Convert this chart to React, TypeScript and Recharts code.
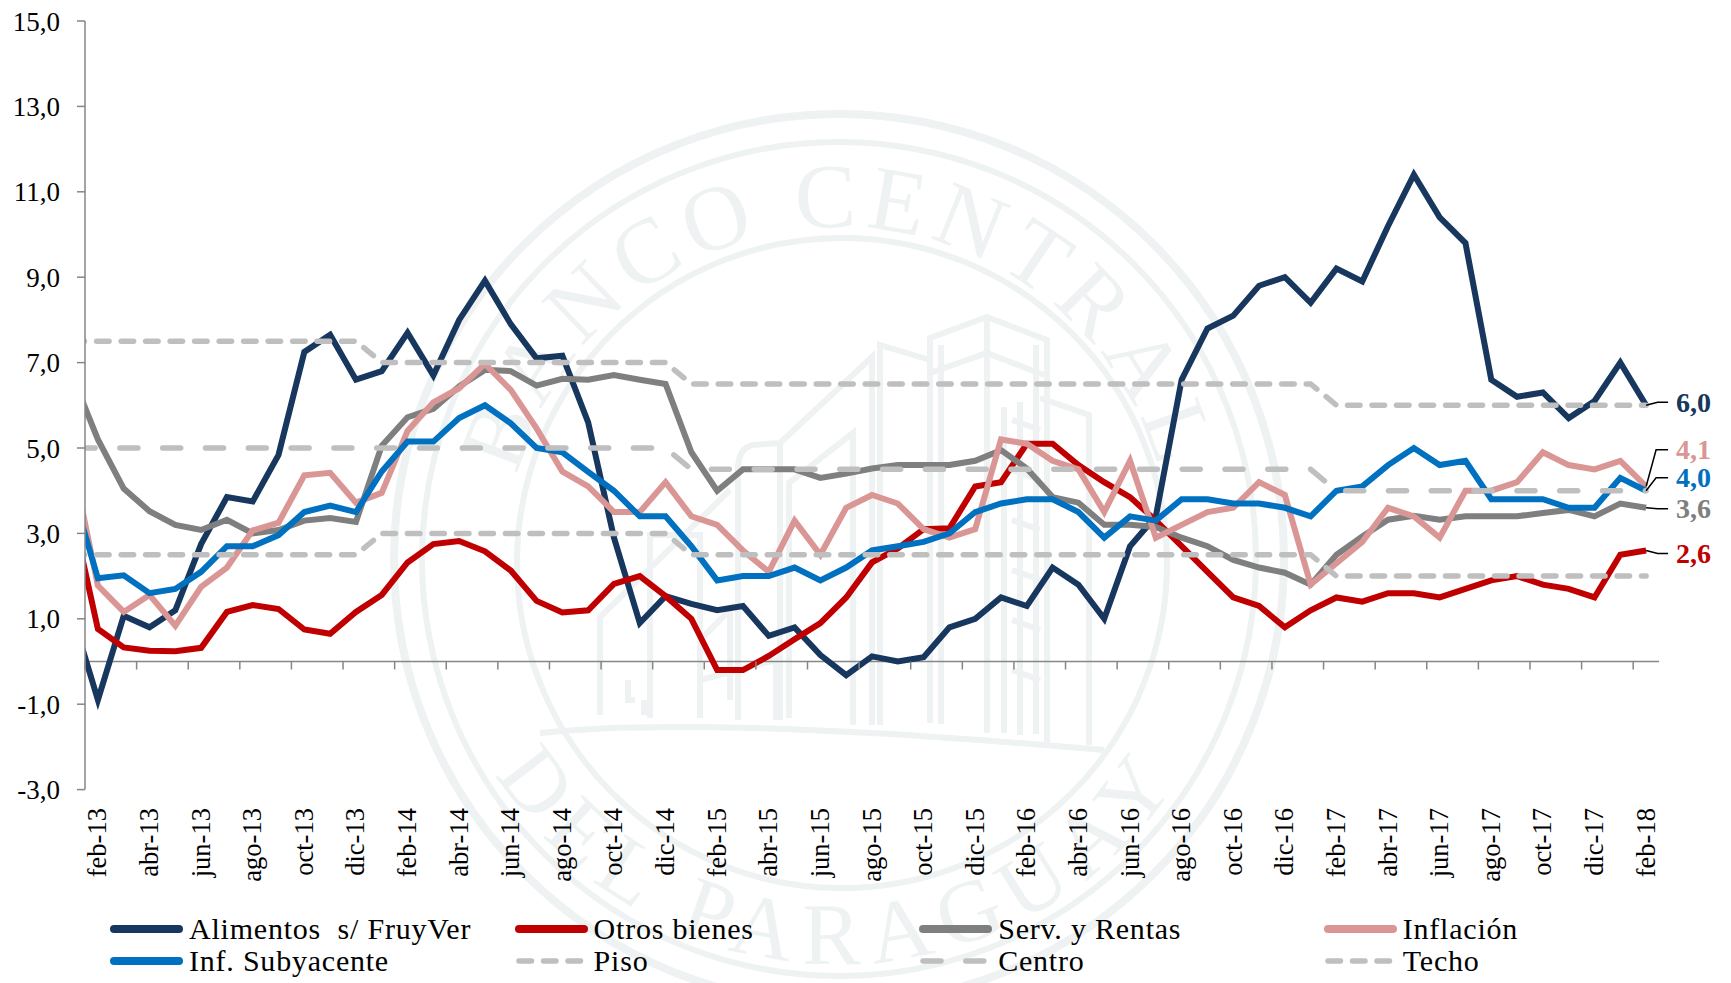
import React from "react";
import { LineChart, Line, XAxis, YAxis, ReferenceLine, ReferenceDot, Legend } from "recharts";

const months = ["ene-13","feb-13","mar-13","abr-13","may-13","jun-13","jul-13","ago-13","sep-13","oct-13","nov-13","dic-13",
"ene-14","feb-14","mar-14","abr-14","may-14","jun-14","jul-14","ago-14","sep-14","oct-14","nov-14","dic-14",
"ene-15","feb-15","mar-15","abr-15","may-15","jun-15","jul-15","ago-15","sep-15","oct-15","nov-15","dic-15",
"ene-16","feb-16","mar-16","abr-16","may-16","jun-16","jul-16","ago-16","sep-16","oct-16","nov-16","dic-16",
"ene-17","feb-17","mar-17","abr-17","may-17","jun-17","jul-17","ago-17","sep-17","oct-17","nov-17","dic-17",
"ene-18","feb-18"];

const alimentos = [1.1,-0.9,1.07,0.8,1.2,2.75,3.85,3.75,4.84,7.25,7.65,6.6,6.8,7.7,6.7,8.0,8.92,7.9,7.1,7.16,5.6,2.9,0.9,1.53,1.35,1.2,1.3,0.6,0.8,0.15,-0.32,0.12,0.0,0.1,0.8,1.0,1.5,1.3,2.2,1.8,1.0,2.7,3.4,6.6,7.8,8.1,8.8,9.0,8.4,9.2,8.9,10.2,11.4,10.4,9.8,6.6,6.2,6.3,5.7,6.1,7.0,6.0];
const otros = [3.5,0.76,0.33,0.25,0.24,0.32,1.16,1.32,1.23,0.75,0.65,1.16,1.56,2.32,2.75,2.82,2.58,2.13,1.42,1.15,1.2,1.82,2.0,1.53,1.0,-0.2,-0.2,0.13,0.52,0.9,1.5,2.32,2.65,3.1,3.12,4.1,4.2,5.1,5.1,4.6,4.2,3.85,3.3,2.7,2.1,1.5,1.3,0.8,1.2,1.5,1.4,1.6,1.6,1.5,1.7,1.9,2.0,1.8,1.7,1.5,2.5,2.6];
const servicios = [6.7,5.2,4.05,3.52,3.2,3.08,3.32,3.0,3.08,3.3,3.36,3.27,5.05,5.72,5.92,6.44,6.83,6.8,6.46,6.62,6.6,6.71,6.6,6.5,4.9,4.0,4.5,4.5,4.5,4.3,4.4,4.52,4.6,4.6,4.6,4.7,4.95,4.52,3.85,3.72,3.2,3.2,3.15,2.9,2.7,2.38,2.2,2.08,1.8,2.5,2.93,3.32,3.41,3.32,3.4,3.4,3.4,3.48,3.55,3.4,3.7,3.6];
const inflacion = [4.7,1.78,1.16,1.56,0.84,1.75,2.2,3.07,3.25,4.36,4.42,3.72,3.95,5.4,6.07,6.4,6.97,6.36,5.46,4.45,4.1,3.5,3.5,4.2,3.4,3.2,2.6,2.1,3.3,2.5,3.6,3.9,3.7,3.1,2.9,3.1,5.2,5.1,4.7,4.5,3.5,4.7,2.9,3.2,3.5,3.6,4.2,3.9,1.8,2.3,2.8,3.6,3.4,2.9,4.0,4.0,4.2,4.9,4.6,4.5,4.7,4.1];
const subyacente = [4.0,1.95,2.02,1.6,1.7,2.1,2.7,2.7,2.96,3.5,3.65,3.5,4.45,5.15,5.15,5.7,6.0,5.58,5.0,4.9,4.44,4.0,3.4,3.4,2.7,1.9,2.0,2.0,2.2,1.9,2.2,2.6,2.7,2.8,3.0,3.5,3.7,3.8,3.8,3.5,2.9,3.4,3.3,3.8,3.8,3.7,3.7,3.6,3.4,4.0,4.1,4.6,5.0,4.6,4.7,3.8,3.8,3.8,3.6,3.6,4.3,4.0];
const piso = [2.5,2.5,2.5,2.5,2.5,2.5,2.5,2.5,2.5,2.5,2.5,2.5,3,3,3,3,3,3,3,3,3,3,3,3,2.5,2.5,2.5,2.5,2.5,2.5,2.5,2.5,2.5,2.5,2.5,2.5,2.5,2.5,2.5,2.5,2.5,2.5,2.5,2.5,2.5,2.5,2.5,2.5,2.5,2,2,2,2,2,2,2,2,2,2,2,2,2];
const centro = [5,5,5,5,5,5,5,5,5,5,5,5,5,5,5,5,5,5,5,5,5,5,5,5,4.5,4.5,4.5,4.5,4.5,4.5,4.5,4.5,4.5,4.5,4.5,4.5,4.5,4.5,4.5,4.5,4.5,4.5,4.5,4.5,4.5,4.5,4.5,4.5,4.5,4,4,4,4,4,4,4,4,4,4,4,4,4];
const techo = [7.5,7.5,7.5,7.5,7.5,7.5,7.5,7.5,7.5,7.5,7.5,7.5,7,7,7,7,7,7,7,7,7,7,7,7,6.5,6.5,6.5,6.5,6.5,6.5,6.5,6.5,6.5,6.5,6.5,6.5,6.5,6.5,6.5,6.5,6.5,6.5,6.5,6.5,6.5,6.5,6.5,6.5,6.5,6,6,6,6,6,6,6,6,6,6,6,6,6];

const yTicks = [-3,-1,1,3,5,7,9,11,13,15];
const xTicks = months.map((_, i) => i).filter((i) => i % 2 === 1);

const data = months.map((m, i) => ({
  idx: i, mes: m,
  alimentos: alimentos[i], otros: otros[i], servicios: servicios[i], inflacion: inflacion[i],
  subyacente: subyacente[i], piso: piso[i], centro: centro[i], techo: techo[i],
}));

const NAVY = "#17375E", RED = "#C00000", GREY = "#7F7F7F", PINK = "#D99694", BLUE = "#0070C0", DASH = "#BFBFBF", AXIS = "#868686";
const SHORT = "12.5 12", LONG = "18 24.8";
const FONT = '"Liberation Serif", "Times New Roman", serif';

const series = [
  { key: "alimentos", name: "Alimentos  s/ FruyVer", color: NAVY },
  { key: "otros", name: "Otros bienes", color: RED },
  { key: "servicios", name: "Serv. y Rentas", color: GREY },
  { key: "inflacion", name: "Inflación", color: PINK },
  { key: "subyacente", name: "Inf. Subyacente", color: BLUE },
  { key: "piso", name: "Piso", color: DASH, dash: SHORT },
  { key: "centro", name: "Centro", color: DASH, dash: LONG, offset: -5 },
  { key: "techo", name: "Techo", color: DASH, dash: SHORT },
];

const endLabels = [
  { value: 6.0, color: NAVY, dy: -3, elbow: 11.5 },
  { value: 4.1, color: PINK, dy: -36.6, elbow: 10 },
  { value: 4.0, color: BLUE, dy: -13, elbow: 10 },
  { value: 3.6, color: GREY, dy: 1, elbow: 11.5 },
  { value: 2.6, color: RED, dy: 3, elbow: 11.5 },
];

const fmt = (v: number) => v.toFixed(1).replace(".", ",");

const XTick = (props: any) => {
  const { x, y, payload } = props;
  const zeroY = y - 128.1;
  return (
    <g>
      <line x1={x - 12.9} x2={x - 12.9} y1={zeroY} y2={zeroY + 8} stroke={AXIS} strokeWidth={1.5} />
      <text transform={`translate(${x + 8.5},${y + 18.5}) rotate(-90)`} textAnchor="end" fontFamily={FONT} fontSize={26.5} fill="#000">
        {months[payload.value]}
      </text>
    </g>
  );
};

const LegendBox = () => (
  <div style={{ position: "relative", width: 1731, height: 64 }}>
    {series.map((s, i) => {
      const col = i % 4, row = Math.floor(i / 4);
      const solid = !s.dash;
      return (
        <div key={s.key} style={{ position: "absolute", left: 110 + col * 404.6, top: row * 32, height: 32, display: "flex", alignItems: "center", whiteSpace: "pre", fontFamily: FONT, fontSize: 30, letterSpacing: 0.78, lineHeight: "32px", color: "#000" }}>
          <svg width={73} height={12} style={{ marginRight: 6, display: "block" }}>
            <line x1={4} x2={69} y1={6} y2={6} stroke={s.color} strokeWidth={solid ? 8 : 5.5} strokeLinecap="round" strokeDasharray={s.dash} />
          </svg>
          <span>{s.name}</span>
        </div>
      );
    })}
  </div>
);

const ringColor = "#EEF2F2";
const buildings = [
  "M930 723 L930 338 L987 317 L1047 340 L1047 742",
  "M987 317 L987 733", "M930 373 L987 353 L1044 375",
  "M941 724 L941 345", "M1036 734 L1036 345",
  "M880 725 L880 345 L930 360", "M872 725 L872 357 L780 443 L753 445 Q738 448 738 470 L738 720",
  "M780 443 L780 720", "M853 725 L853 433 L789 483 L789 718",
  "M1040 398 L1089 415 L1089 745", "M1004 407 L1004 733", "M1020 402 L1020 735",
  "M1012 420 L1040 430 M1012 470 L1040 480 M1012 520 L1040 530 M1012 570 L1040 580 M1012 620 L1040 630 M1012 670 L1040 680",
  "M600 715 L600 617 L730 490", "M644 700 L644 715", "M650 718 L650 535 L700 535 L700 718",
  "M700 640 L730 610 L730 700", "M635 700 L628 700 L628 680", "M776 720 L776 660 L700 680",
  "M540 733 Q700 715 1104 750",
];

const Watermark = () => (
  <svg width={1731} height={983} style={{ position: "absolute", left: 0, top: 0 }}>
    <defs>
      <path id="wmTop" d="M 507 559 A 332 332 0 0 1 1171 559" />
      <path id="wmBottom" d="M 434 559 A 405 405 0 0 0 1244 559" />
    </defs>
    <g fill="none" stroke={ringColor}>
      <circle cx={839} cy={559} r={445} strokeWidth={8} />
      <circle cx={839} cy={559} r={417} strokeWidth={6} />
      <circle cx={842} cy={563} r={325} strokeWidth={6} />
      {buildings.map((d, i) => <path key={i} d={d} strokeWidth={6} />)}
    </g>
    <g fill={ringColor} fontFamily={FONT} fontSize={88}>
      <text textAnchor="middle" letterSpacing={8} fontSize={92}><textPath href="#wmTop" startOffset="50%">BANCO CENTRAL</textPath></text>
      <text textAnchor="middle" letterSpacing={13}><textPath href="#wmBottom" startOffset="50%">DEL PARAGUAY</textPath></text>
    </g>
  </svg>
);

export default function App() {
  return (
    <div style={{ position: "absolute", left: 0, top: 0, width: 1731, height: 983, overflow: "hidden", background: "#fff" }}>
      <Watermark />
      <div style={{ position: "absolute", left: 0, top: 0 }}>
        <LineChart width={1731} height={983} data={data} margin={{ top: 21, right: 72, bottom: 0, left: 0 }}>
          <XAxis dataKey="idx" type="number" domain={[0.5, 61.5]} allowDataOverflow ticks={xTicks} interval={0}
            height={129.4} axisLine={false} tickLine={false} tickSize={0} tickMargin={0} tick={<XTick />} />
          <YAxis type="number" domain={[-3, 15]} ticks={yTicks} interval={0} width={85} tickFormatter={fmt}
            axisLine={{ stroke: AXIS, strokeWidth: 1.5 }} tickLine={{ stroke: AXIS, strokeWidth: 1.5 }} tickSize={8} tickMargin={17}
            tick={{ fontFamily: FONT, fontSize: 27, fill: "#000" }} />
          <ReferenceLine y={0} stroke={AXIS} strokeWidth={1.5} />
          <Legend layout="vertical" align="center" verticalAlign="bottom" content={<LegendBox />}
            wrapperStyle={{ left: 0, top: 913, bottom: "auto", width: 1731 }} />
          {series.map((s) => (
            <Line key={s.key} dataKey={s.key} name={s.name} stroke={s.color} strokeWidth={s.dash ? 5.5 : 6}
              strokeDasharray={s.dash} strokeDashoffset={s.offset} strokeLinecap={s.dash ? "round" : "butt"} strokeLinejoin="miter"
              dot={false} activeDot={false} isAnimationActive={false} />
          ))}
          {endLabels.map((l) => (
            <ReferenceDot key={l.color} x={61} y={l.value} r={0} ifOverflow="visible"
              shape={(p: any) => (
                <g>
                  <polyline points={`${p.cx},${p.cy} ${p.cx + l.elbow},${p.cy + l.dy} ${p.cx + 22},${p.cy + l.dy}`} fill="none" stroke="#000" strokeWidth={1.5} />
                  <text x={p.cx + 30} y={p.cy + l.dy + 9.5} fontFamily={FONT} fontSize={28} fontWeight={700} fill={l.color}>{fmt(l.value)}</text>
                </g>
              )} />
          ))}
        </LineChart>
      </div>
    </div>
  );
}
